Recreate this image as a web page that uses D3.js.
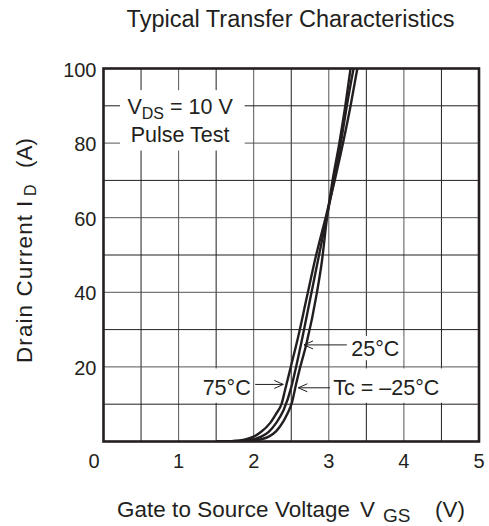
<!DOCTYPE html>
<html>
<head>
<meta charset="utf-8">
<script src="https://cdn.jsdelivr.net/npm/d3@7"></script>
<style>
  body { margin: 0; background: #fff; }
  text { font-family: "Liberation Sans", Arial, sans-serif; fill: #231f20; white-space: pre; }
</style>
</head>
<body>
<div id="chart"></div>
<script>
// Vgs (V), Id (A)
var series = [
  { name: "75C", vgs: [1.5, 1.7, 1.9, 2.0, 2.1, 2.22, 2.3, 2.37, 2.42, 2.5, 2.58, 2.7, 2.82, 2.97, 3.09, 3.2, 3.29, 3.38],
                 id:  [0, 0.1, 0.6, 1.3, 2.6, 5, 7.5, 10, 14, 20.5, 27, 38, 49, 61, 71, 81, 90, 100] },
  { name: "25C", vgs: [1.5, 1.8, 2.0, 2.1, 2.2, 2.3, 2.4, 2.5, 2.57, 2.65, 2.75, 2.86, 2.97, 3.07, 3.16, 3.24, 3.33],
                 id:  [0, 0.1, 0.6, 1.3, 2.6, 5, 8.5, 14.5, 20.5, 28, 38, 49, 60, 70, 80, 90, 100] },
  { name: "-25C", vgs: [1.5, 1.9, 2.1, 2.2, 2.3, 2.35, 2.45, 2.51, 2.56, 2.62, 2.7, 2.84, 2.91, 2.97, 3.05, 3.14, 3.22, 3.29],
                  id:  [0, 0.1, 0.6, 1.3, 2.8, 4, 7.5, 10.5, 15, 20, 26, 39.7, 48.6, 59, 70, 80, 90, 100] }
];
var xTicks = [0, 1, 2, 3, 4, 5];
var yTicks = [20, 40, 60, 80, 100];
// annotations: arrow from tail to tip (data units), label next to the tail
var notes = [
  { label: "25°C", tail: [3.24, 25.9], tip: [2.67, 25.9], tx: 3.30, ty: 23.0, anchor: "start", box: [3.30, 3.99, 21.8, 28.3] },
  { label: "75°C", tail: [2.02, 15.3], tip: [2.394, 15.3], tx: 1.96, ty: 12.5, anchor: "end", box: [1.30, 1.99, 10.4, 19.6] },
  { label: "Tc = –25°C", tail: [3.016, 14.4], tip: [2.594, 14.4], tx: 3.06, ty: 12.5, anchor: "start", box: [3.04, 4.53, 10.4, 19.6] }
];

var W = 489, H = 526;
var m = { left: 103.5, top: 68.5, right: 10, bottom: 84.5 };
var w = W - m.left - m.right, h = H - m.top - m.bottom;

var svg = d3.select("#chart").append("svg").attr("width", W).attr("height", H);
var g = svg.append("g").attr("transform", "translate(" + m.left + "," + m.top + ")");

var x = d3.scaleLinear().domain([0, 5]).range([0, w]);
var y = d3.scaleLinear().domain([0, 100]).range([h, 0]);
var ink = "#231f20";

// grid
g.selectAll(".vg").data(d3.range(0.5, 5, 0.5)).join("line")
  .attr("x1", d => x(d)).attr("x2", d => x(d)).attr("y1", 0).attr("y2", h)
  .attr("stroke", d => d % 1 === 0 ? "#555" : ink).attr("stroke-width", 1);
g.selectAll(".hg").data(d3.range(10, 100, 10)).join("line")
  .attr("y1", d => y(d)).attr("y2", d => y(d)).attr("x1", 0).attr("x2", w)
  .attr("stroke", d => d % 20 === 0 ? "#555" : ink).attr("stroke-width", 1);

// white boxes behind labels
g.append("rect").attr("x", x(0.22)).attr("y", y(94.2)).attr("width", x(1.88) - x(0.22)).attr("height", y(78) - y(94.2)).attr("fill", "#fff");
g.selectAll(".nb").data(notes).join("rect")
  .attr("x", d => x(d.box[0])).attr("width", d => x(d.box[1]) - x(d.box[0]))
  .attr("y", d => y(d.box[3])).attr("height", d => y(d.box[2]) - y(d.box[3]))
  .attr("fill", "#fff");

// curves
g.append("clipPath").attr("id", "clip").append("rect").attr("width", w).attr("height", h);
var line = d3.line().x(d => x(d[0])).y(d => y(d[1])).curve(d3.curveMonotoneX);
g.append("g").attr("clip-path", "url(#clip)").selectAll("path").data(series).join("path")
  .attr("d", s => line(d3.zip(s.vgs, s.id)))
  .attr("fill", "none").attr("stroke", ink).attr("stroke-width", 2.4);

// frame
g.append("rect").attr("width", w).attr("height", h).attr("fill", "none").attr("stroke", ink).attr("stroke-width", 2.6);

// ticks
g.selectAll(".yl").data(yTicks).join("text")
  .attr("x", -7).attr("y", d => y(d)).attr("dy", "0.4em").attr("text-anchor", "end")
  .attr("font-size", 20).text(d => d);
g.selectAll(".xl").data(xTicks).join("text")
  .attr("x", d => d === 0 ? x(d) - 9.5 : x(d)).attr("y", h + 26).attr("text-anchor", "middle")
  .attr("font-size", 20).text(d => d);

// annotations
g.selectAll(".na").data(notes).join("line")
  .attr("x1", d => x(d.tail[0])).attr("y1", d => y(d.tail[1]))
  .attr("x2", d => x(d.tip[0])).attr("y2", d => y(d.tip[1]))
  .attr("stroke", ink).attr("stroke-width", 1);
g.selectAll(".nh").data(notes).join("path")
  .attr("d", d => {
    var tx = x(d.tip[0]), ty = y(d.tip[1]);
    var dir = d.tail[0] > d.tip[0] ? 1 : -1;
    return "M" + (tx + dir * 9) + "," + (ty - 4) + "L" + tx + "," + ty + "L" + (tx + dir * 9) + "," + (ty + 4);
  })
  .attr("fill", "none").attr("stroke", ink).attr("stroke-width", 1);
g.selectAll(".nt").data(notes).join("text")
  .attr("x", d => x(d.tx)).attr("y", d => y(d.ty)).attr("text-anchor", d => d.anchor)
  .attr("font-size", 21.5).text(d => d.label);

var vds = g.append("text").attr("x", x(1.02)).attr("y", y(87.8)).attr("text-anchor", "middle").attr("font-size", 21.5);
vds.append("tspan").text("V");
vds.append("tspan").attr("dy", 5).attr("font-size", 16).text("DS");
vds.append("tspan").attr("dy", -5).text(" = 10 V");
g.append("text").attr("x", x(1.02)).attr("y", y(80.2)).attr("text-anchor", "middle").attr("font-size", 21.5).text("Pulse Test");

// titles
svg.append("text").attr("x", 290.5).attr("y", 27).attr("text-anchor", "middle").attr("font-size", 23.5)
  .text("Typical Transfer Characteristics");

var xt = svg.append("text").attr("y", 517).attr("font-size", 22.4);
xt.append("tspan").attr("x", 117).attr("textLength", 233).text("Gate to Source Voltage");
xt.append("tspan").attr("x", 360).text("V");
xt.append("tspan").attr("x", 383).attr("dy", 5).attr("font-size", 19).text("GS");
xt.append("tspan").attr("x", 435).attr("dy", -5).text("(V)");

var yt = svg.append("text").attr("transform", "translate(31.5,363) rotate(-90)").attr("font-size", 22.4);
yt.append("tspan").attr("x", 0).attr("textLength", 148).text("Drain Current");
yt.append("tspan").attr("x", 156).text("I");
yt.append("tspan").attr("x", 167).attr("dy", 4).attr("font-size", 16).text("D");
yt.append("tspan").attr("x", 195).attr("dy", -4).text("(A)");
</script>
</body>
</html>
